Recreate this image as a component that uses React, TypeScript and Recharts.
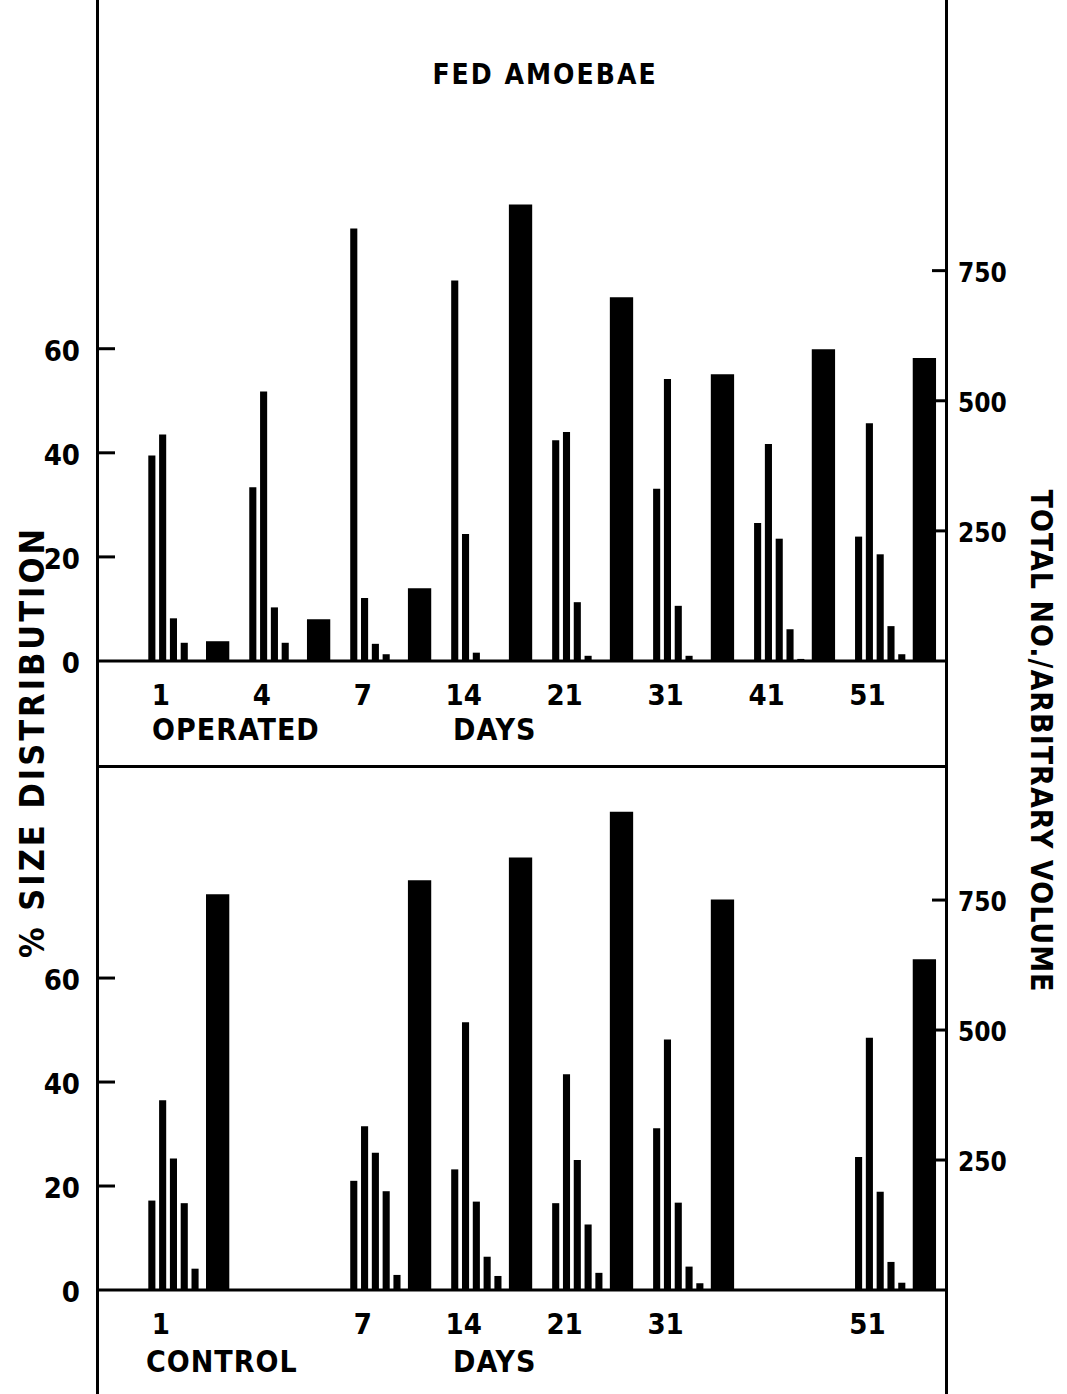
import React from 'react';
import { ComposedChart, Bar, XAxis, YAxis } from 'recharts';

// days after operation (same grid for both panels)
const DAYS = ['1', '4', '7', '14', '21', '31', '41', '51'];

// operated amoebae: % in each of five size classes, plus total number
const OP_CLASS_1 = [39.5, 33.4, 83.1, 73.1, 42.4, 33.1, 26.5, 23.9];
const OP_CLASS_2 = [43.5, 51.8, 12.1, 24.4, 44, 54.2, 41.7, 45.7];
const OP_CLASS_3 = [8.2, 10.3, 3.3, 1.6, 11.3, 10.6, 23.5, 20.5];
const OP_CLASS_4 = [3.5, 3.5, 1.3, 0, 1.0, 1.0, 6.1, 6.7];
const OP_CLASS_5 = [0, 0, 0, 0, 0, 0, 0.4, 1.3];
const OP_TOTAL = [38, 80, 140, 877, 699, 551, 599, 582];

// control amoebae (no samples on days 4 and 41)
const CT_CLASS_1 = [17.2, null, 21, 23.2, 16.7, 31.1, null, 25.6];
const CT_CLASS_2 = [36.5, null, 31.5, 51.5, 41.5, 48.2, null, 48.5];
const CT_CLASS_3 = [25.3, null, 26.4, 17, 25, 16.8, null, 18.9];
const CT_CLASS_4 = [16.7, null, 19, 6.4, 12.6, 4.5, null, 5.4];
const CT_CLASS_5 = [4.1, null, 2.9, 2.7, 3.3, 1.3, null, 1.4];
const CT_TOTAL = [761, null, 788, 832, 920, 751, null, 636];

const PCT_TICKS = [0, 20, 40, 60];
const TOTAL_TICKS = [250, 500, 750];

const FONT = "'DejaVu Sans Condensed', 'Liberation Sans Narrow', 'DejaVu Sans', sans-serif";

const build = (c1, c2, c3, c4, c5, tot) =>
  DAYS.map((day, i) => ({
    day,
    c1: c1[i],
    c2: c2[i],
    c3: c3[i],
    c4: c4[i],
    c5: c5[i],
    total: tot[i]
  }));

const operatedData = build(OP_CLASS_1, OP_CLASS_2, OP_CLASS_3, OP_CLASS_4, OP_CLASS_5, OP_TOTAL);
const controlData = build(CT_CLASS_1, CT_CLASS_2, CT_CLASS_3, CT_CLASS_4, CT_CLASS_5, CT_TOTAL);

const LeftTick = (props: any) => {
  const { x, y, payload } = props;
  return (
    <g>
      {payload.value !== 0 && <line x1={x} x2={x + 18} y1={y} y2={y} stroke="#000" strokeWidth={3} />}
      <text x={x - 17} y={y + 2} textAnchor="end" dominantBaseline="central" fontFamily={FONT} fontWeight="bold" fontSize={29} fill="#000">
        {payload.value}
      </text>
    </g>
  );
};

const RightTick = (props: any) => {
  const { x, y, payload } = props;
  return (
    <g>
      <line x1={x - 14} x2={x} y1={y} y2={y} stroke="#000" strokeWidth={3} />
      <text x={x + 12} y={y + 2} textAnchor="start" dominantBaseline="central" fontFamily={FONT} fontWeight="bold" fontSize={26} fill="#000">
        {payload.value}
      </text>
    </g>
  );
};

const makeDayTick = (totals) => (props: any) => {
  const { x, y, payload, index } = props;
  if (totals[index] == null) return <g />;
  return (
    <text x={x - 28} y={y + 34} textAnchor="middle" dominantBaseline="central" fontFamily={FONT} fontWeight="bold" fontSize={29} fill="#000">
      {payload.value}
    </text>
  );
};

const Panel = ({ data, totals, height, axisHeight, pctMax }) => (
  <ComposedChart
    width={1067}
    height={height}
    data={data}
    margin={{ top: 0, right: 0, bottom: 0, left: 0 }}
    barGap={3.7}
  >
    <XAxis
      dataKey="day"
      height={axisHeight}
      padding={{ left: 41.3, right: 0 }}
      tickLine={false}
      tickSize={0}
      tickMargin={0}
      interval={0}
      axisLine={{ stroke: '#000', strokeWidth: 3 }}
      tick={makeDayTick(totals)}
    />
    <YAxis
      yAxisId="pct"
      width={97}
      domain={[0, pctMax]}
      ticks={PCT_TICKS}
      tickLine={false}
      axisLine={false}
      tickSize={0}
      tickMargin={0}
      tick={<LeftTick />}
    />
    <YAxis
      yAxisId="total"
      orientation="right"
      width={121}
      domain={[0, pctMax * 10]}
      ticks={TOTAL_TICKS}
      tickLine={false}
      axisLine={false}
      tickSize={0}
      tickMargin={0}
      tick={<RightTick />}
    />
    <Bar yAxisId="pct" dataKey="c1" barSize={7.1} fill="#000" isAnimationActive={false} />
    <Bar yAxisId="pct" dataKey="c2" barSize={7.1} fill="#000" isAnimationActive={false} />
    <Bar yAxisId="pct" dataKey="c3" barSize={7.1} fill="#000" isAnimationActive={false} />
    <Bar yAxisId="pct" dataKey="c4" barSize={7.1} fill="#000" isAnimationActive={false} />
    <Bar yAxisId="pct" dataKey="c5" barSize={7.1} fill="#000" isAnimationActive={false} />
    <Bar yAxisId="pct" dataKey="spacer" barSize={0} fill="none" isAnimationActive={false} />
    <Bar yAxisId="total" dataKey="total" barSize={23.3} fill="#000" isAnimationActive={false} />
  </ComposedChart>
);

const textStyle: React.CSSProperties = {
  position: 'absolute',
  fontFamily: FONT,
  fontWeight: 'bold',
  color: '#000',
  whiteSpace: 'nowrap',
  lineHeight: 1
};

export default function App() {
  return (
    <div style={{ position: 'absolute', left: 0, top: 0, width: 1067, height: 1394, background: '#fff', overflow: 'hidden' }}>
      <div style={{ position: 'absolute', left: 0, top: 0 }}>
        <Panel data={operatedData} totals={OP_TOTAL} height={768} axisHeight={107} pctMax={127} />
      </div>
      <div style={{ position: 'absolute', left: 0, top: 768 }}>
        <Panel data={controlData} totals={CT_TOTAL} height={626} axisHeight={104} pctMax={100.4} />
      </div>

      {/* frame */}
      <div style={{ position: 'absolute', left: 96, top: 0, width: 3, height: 1394, background: '#000' }} />
      <div style={{ position: 'absolute', left: 945, top: 0, width: 3, height: 1394, background: '#000' }} />
      <div style={{ position: 'absolute', left: 96, top: 765, width: 852, height: 3, background: '#000' }} />

      <div style={{ ...textStyle, left: 545, top: 75, fontSize: 28, letterSpacing: 2, transform: 'translate(-50%, -50%)' }}>FED AMOEBAE</div>
      <div style={{ ...textStyle, left: 152, top: 730, fontSize: 30, letterSpacing: 1, transform: 'translateY(-50%)' }}>OPERATED</div>
      <div style={{ ...textStyle, left: 453, top: 730, fontSize: 30, letterSpacing: 1, transform: 'translateY(-50%)' }}>DAYS</div>
      <div style={{ ...textStyle, left: 146, top: 1362, fontSize: 30, letterSpacing: 1, transform: 'translateY(-50%)' }}>CONTROL</div>
      <div style={{ ...textStyle, left: 453, top: 1362, fontSize: 30, letterSpacing: 1, transform: 'translateY(-50%)' }}>DAYS</div>

      <div style={{ ...textStyle, left: 32, top: 742, fontSize: 34, letterSpacing: 3, transform: 'translate(-50%, -50%) rotate(-90deg)' }}>% SIZE DISTRIBUTION</div>
      <div style={{ ...textStyle, left: 1041, top: 741, fontSize: 30, letterSpacing: 1, transform: 'translate(-50%, -50%) rotate(90deg)' }}>TOTAL NO./ARBITRARY VOLUME</div>
    </div>
  );
}
